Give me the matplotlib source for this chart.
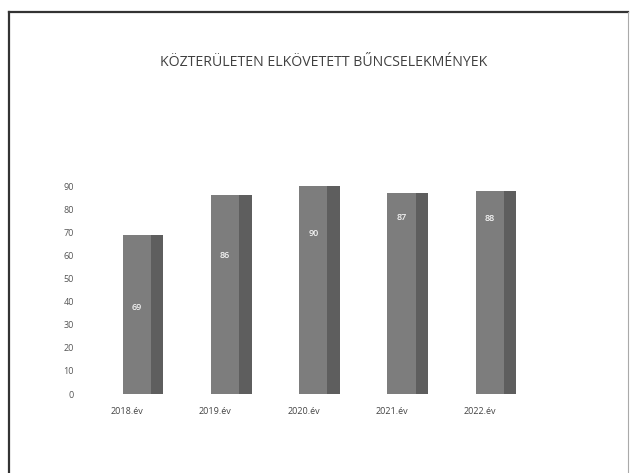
import matplotlib
matplotlib.use("Agg")
import matplotlib.pyplot as plt
from matplotlib.lines import Line2D
import numpy as np

categories = ["2018.év", "2019.év", "2020.év", "2021.év", "2022.év"]
values = [69, 86, 90, 87, 88]
value_labels = ["69", "86", "90", "87", "88"]
yticks = [0, 10, 20, 30, 40, 50, 60, 70, 80, 90]
title = "KÖZTERÜLETEN ELKÖVETETT BŰNCSELEKMÉNYEK"

# layout / style (not data)
label_frac = [0.545, 0.695, 0.77, 0.88, 0.865]
front_off = 0.11
front_w = 0.32
side_w = 0.14

plt.rcParams['font.family'] = ['Open Sans', 'DejaVu Sans']
fig = plt.figure(figsize=(6.3, 4.73), dpi=100)
fig.patch.set_facecolor('white')

ax = fig.add_axes([85/630, 1-394/473, 475/630, 208/473])
x = np.arange(len(categories))
ax.bar(x + front_off, values, width=front_w, color='#7d7d7d', align='center', clip_on=False, zorder=2)
ax.bar(x + front_off + front_w/2 + side_w/2, values, width=side_w, color='#5e5e5e', align='center', clip_on=False, zorder=2)
for xi, v, lab, fr in zip(x, values, value_labels, label_frac):
    ax.text(xi + front_off, v*fr, lab, ha='center', va='center', fontsize=6.5,
            color='#f2f2f2', fontweight='semibold', zorder=3)

ax.set_xlim(-0.476, 4.904)
ax.set_ylim(0, 90)
ax.set_yticks(yticks)
ax.set_yticklabels([str(t) for t in yticks], fontsize=6.5, color='#555555')
ax.set_xticks(x)
ax.set_xticklabels(categories, fontsize=6.5, color='#444444')
ax.tick_params(axis='both', length=0)
ax.tick_params(axis='y', pad=8)
ax.tick_params(axis='x', pad=9)
for s in ax.spines.values():
    s.set_visible(False)
ax.patch.set_visible(False)

fig.text(324/630, 1-62/473, title, ha='center', va='center', fontsize=10.2, color='#404040')

# frame
H, W = 473, 630
fig.add_artist(Line2D([9/W, 9/W], [0, 1-12/H], color='#333333', lw=1.6))
fig.add_artist(Line2D([9/W, 628/W], [1-12/H, 1-12/H], color='#333333', lw=1.6))
fig.add_artist(Line2D([628/W, 628/W], [0, 1-12/H], color='#aaaaaa', lw=0.8))

fig.savefig("out.png", dpi=100)
